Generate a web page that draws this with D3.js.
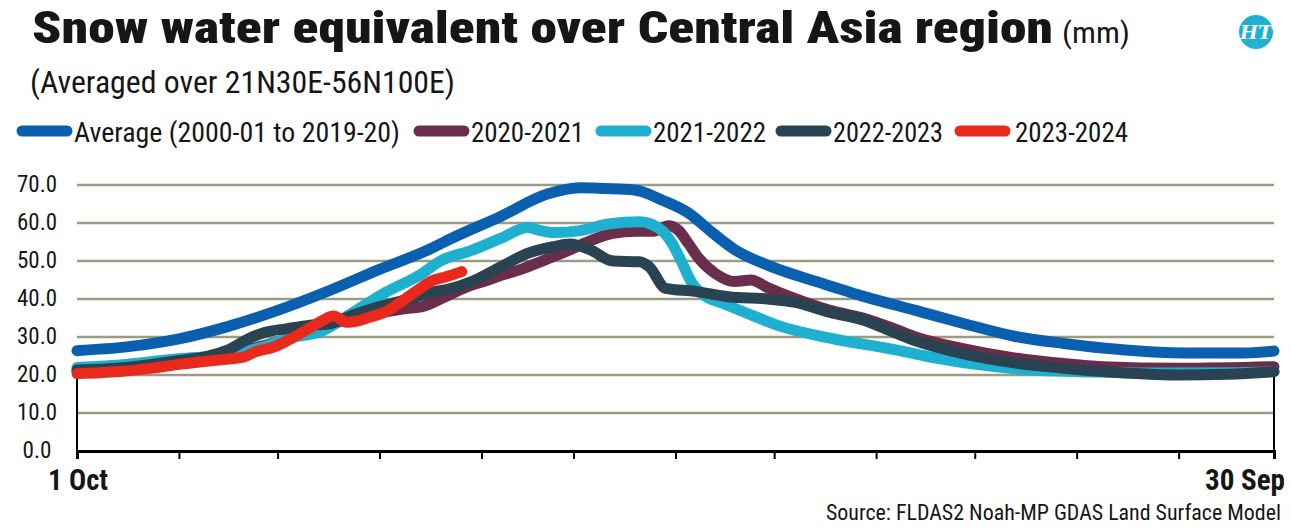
<!DOCTYPE html>
<html>
<head>
<meta charset="utf-8">
<script src="https://cdn.jsdelivr.net/npm/d3@7"></script>
<style>
  body { margin: 0; background: #fff; }
  svg text { font-family: "Roboto Condensed", "Liberation Sans Narrow", "DejaVu Sans Condensed", Roboto, sans-serif; fill: #161616; }
</style>
</head>
<body>
<svg id="chart" width="1291" height="532"></svg>
<script>
// day offset from 1 Oct, value in mm
const average = [[0,26.4],[15,27.4],[31,29.5],[46,32.8],[61,37.0],[77,42.3],[92,47.8],[106,52.6],[114,56.0],[129,61.8],[143,67.6],[153,69.3],[163,69.0],[170,68.6],[178,66.0],[186,62.6],[193,57.6],[200,53.0],[210,48.9],[227,44.0],[240,40.5],[255,37.0],[269,33.7],[285,30.2],[300,28.3],[312,27.1],[325,26.2],[340,25.8],[355,25.8],[364,26.3]];
const y2020 = [[0,21.0],[31,23.5],[60,28.5],[75,33.0],[85,35.0],[93,36.5],[100,37.5],[105,38.0],[112,40.6],[118,43.0],[125,45.0],[130,46.5],[135,47.8],[140,49.5],[145,51.2],[150,53.0],[156,55.3],[163,57.3],[170,57.8],[175,57.8],[180,59.3],[183,58.0],[186,54.5],[189,50.8],[194,46.8],[200,44.6],[205,45.0],[210,43.0],[218,40.2],[229,37.0],[239,35.0],[249,32.0],[255,30.0],[269,27.0],[285,24.5],[300,23.0],[312,22.2],[335,21.8],[364,22.2]];
const y2021 = [[0,22.0],[15,22.8],[31,24.3],[45,25.3],[55,27.0],[65,29.8],[74,31.4],[84,36.5],[94,41.8],[104,46.2],[111,50.2],[120,52.8],[129,56.0],[137,58.8],[141,58.0],[145,57.5],[153,58.0],[162,59.8],[171,60.3],[177,58.6],[181,54.6],[184,49.5],[187,44.2],[191,40.8],[196,39.0],[205,35.8],[214,32.8],[229,29.7],[249,26.6],[259,24.8],[279,22.2],[290,21.3],[310,20.8],[330,20.5],[350,20.6],[364,20.9]];
const y2022 = [[0,21.3],[15,22.0],[31,23.8],[40,25.0],[46,26.6],[52,29.5],[57,31.2],[64,32.2],[70,33.0],[77,33.5],[84,35.8],[92,38.0],[100,39.8],[108,41.8],[113,42.6],[120,44.6],[130,49.0],[137,52.0],[145,53.8],[150,54.5],[156,53.0],[163,50.0],[171,49.8],[174,48.5],[179,42.8],[188,42.0],[198,40.6],[210,40.0],[218,39.2],[229,36.5],[239,34.5],[249,31.0],[255,29.0],[269,25.7],[285,23.2],[300,21.8],[312,20.9],[335,20.0],[350,20.2],[364,20.9]];
const y2023 = [[0,20.4],[7,20.6],[13,20.9],[23,21.8],[31,22.8],[40,23.7],[48,24.4],[51,24.8],[54,26.0],[60,27.4],[65,29.5],[71,32.5],[75,34.5],[78,35.5],[82,33.9],[86,34.4],[89,35.2],[94,36.7],[99,39.5],[104,42.6],[108,44.8],[112,45.8],[117,47.2]];

const seriesNames = ["Average (2000-01 to 2019-20)", "2020-2021", "2021-2022", "2022-2023", "2023-2024"];
const seriesData = [average, y2020, y2021, y2022, y2023];
const colors = ["#0a5fae", "#6a2d4b", "#1eb1cf", "#2a4353", "#e8291c"];
const yTicks = [0, 10, 20, 30, 40, 50, 60, 70];
const startDate = new Date(2022, 9, 1);
const endDate = new Date(2023, 8, 30);

const svg = d3.select("#chart");

const x = d3.scaleTime().domain([startDate, endDate]).range([77, 1274]);
const y = d3.scaleLinear().domain([0, 70]).range([451, 185]);
const dayToDate = d => d3.timeDay.offset(startDate, d);

// Title
svg.append("text")
    .attr("x", 32).attr("y", 43)
    .attr("font-size", 45)
    .attr("font-weight", 900)
    .attr("textLength", 1021)
    .attr("lengthAdjust", "spacingAndGlyphs")
    .text("Snow water equivalent over Central Asia region");

svg.append("text")
    .attr("x", 1062).attr("y", 43)
    .attr("font-size", 30)
    .attr("textLength", 68)
    .attr("lengthAdjust", "spacingAndGlyphs")
    .text("(mm)");

svg.append("text")
    .attr("x", 30).attr("y", 93)
    .attr("font-size", 32)
    .attr("textLength", 425)
    .attr("lengthAdjust", "spacingAndGlyphs")
    .text("(Averaged over 21N30E-56N100E)");

// HT logo
svg.append("circle")
    .attr("cx", 1256).attr("cy", 32).attr("r", 17)
    .attr("fill", "#1eb1d0");
svg.append("text")
    .attr("x", 1256).attr("y", 39)
    .attr("text-anchor", "middle")
    .attr("font-size", 19)
    .attr("font-style", "italic")
    .attr("font-weight", 700)
    .style("font-family", "'DejaVu Serif', serif")
    .style("fill", "#fff")
    .text("HT");

// Legend
const legendWidths = [326, 113, 113, 110, 113];
const legendX = [17, 414, 596, 776, 955];
seriesNames.forEach((name, i) => {
    const lx = legendX[i];
    svg.append("line")
        .attr("x1", lx + 5).attr("x2", lx + 50)
        .attr("y1", 131).attr("y2", 131)
        .attr("stroke", colors[i])
        .attr("stroke-width", 11)
        .attr("stroke-linecap", "round");
    svg.append("text")
        .attr("x", lx + (i === 4 ? 60 : 57)).attr("y", 142)
        .attr("font-size", 28)
        .attr("textLength", legendWidths[i])
        .attr("lengthAdjust", "spacingAndGlyphs")
        .text(name);
});

// Gridlines
svg.append("g")
    .selectAll("line")
    .data(yTicks.filter(t => t > 0))
    .enter().append("line")
    .attr("x1", x.range()[0]).attr("x2", x.range()[1])
    .attr("y1", d => y(d)).attr("y2", d => y(d))
    .attr("stroke", "#9c9c82")
    .attr("stroke-width", 2.5);

// Y labels
svg.append("g")
    .selectAll("text")
    .data(yTicks)
    .enter().append("text")
    .attr("x", 37)
    .attr("y", d => y(d) + 7)
    .attr("text-anchor", "middle")
    .attr("font-size", 24)
    .attr("textLength", d => d >= 10 ? 40 : 29)
    .attr("lengthAdjust", "spacingAndGlyphs")
    .text(d => d.toFixed(1));

// Vertical end lines down to axis
svg.append("line")
    .attr("x1", x(startDate)).attr("x2", x(startDate))
    .attr("y1", y(y2023[0][1])).attr("y2", y(0))
    .attr("stroke", "#000").attr("stroke-width", 2);
svg.append("line")
    .attr("x1", x(endDate)).attr("x2", x(endDate))
    .attr("y1", y(y2022[y2022.length - 1][1])).attr("y2", y(0))
    .attr("stroke", "#000").attr("stroke-width", 2);

// X axis
const xAxis = svg.append("g")
    .attr("transform", `translate(0,${y(0)})`)
    .call(d3.axisBottom(x)
        .tickValues(d3.timeMonth.range(startDate, d3.timeDay.offset(endDate, 1)).concat([endDate]))
        .tickSize(8)
        .tickFormat(""));
xAxis.select(".domain").attr("stroke", "#000").attr("stroke-width", 3);
xAxis.selectAll(".tick line").attr("stroke", "#000").attr("stroke-width", 2);

svg.append("text")
    .attr("x", 48).attr("y", 490)
    .attr("font-size", 29)
    .attr("font-weight", 700)
    .attr("textLength", 60)
    .attr("lengthAdjust", "spacingAndGlyphs")
    .text("1 Oct");
svg.append("text")
    .attr("x", 1205).attr("y", 490)
    .attr("font-size", 29)
    .attr("font-weight", 700)
    .attr("textLength", 80)
    .attr("lengthAdjust", "spacingAndGlyphs")
    .text("30 Sep");

// Lines
const line = d3.line()
    .x(d => x(dayToDate(d[0])))
    .y(d => y(d[1]))
    .curve(d3.curveMonotoneX);

svg.append("g")
    .selectAll("path")
    .data(seriesData)
    .enter().append("path")
    .attr("d", line)
    .attr("fill", "none")
    .attr("stroke", (d, i) => colors[i])
    .attr("stroke-width", 11)
    .attr("stroke-linecap", "round")
    .attr("stroke-linejoin", "round");

// Source
svg.append("text")
    .attr("x", 826).attr("y", 520)
    .attr("font-size", 22)
    .attr("textLength", 455)
    .attr("lengthAdjust", "spacingAndGlyphs")
    .text("Source: FLDAS2 Noah-MP GDAS Land Surface Model");
</script>
</body>
</html>
